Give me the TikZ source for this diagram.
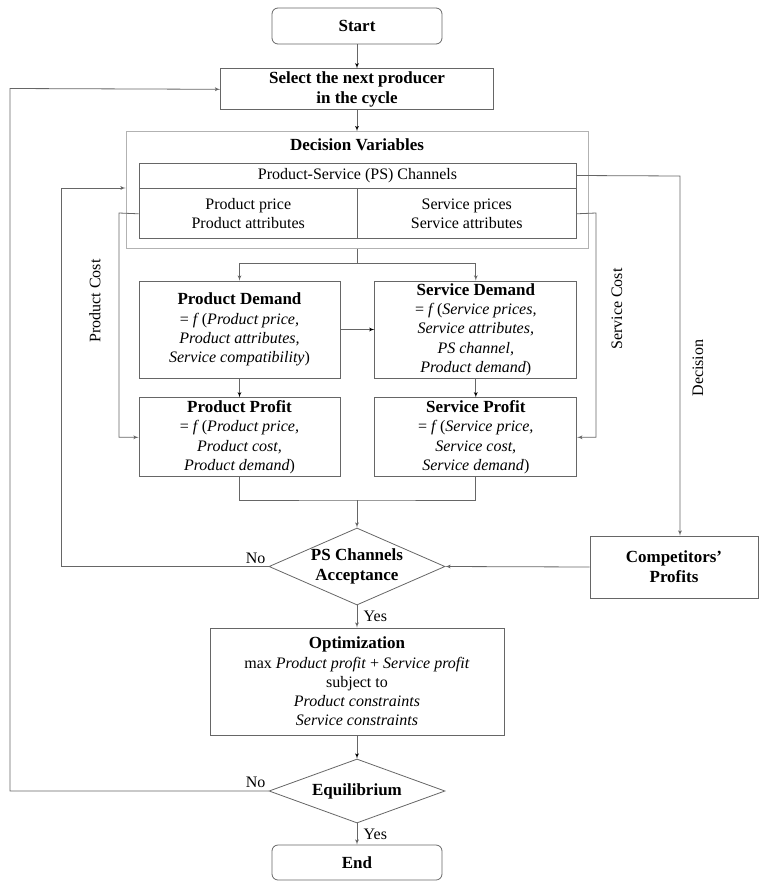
\documentclass[tikz,border=0pt]{standalone}
\usepackage{fontspec}
\setmainfont{Liberation Serif}
\usetikzlibrary{arrows,positioning,shapes.geometric}
\newcommand{\hd}[1]{{\fontsize{17}{19.3}\selectfont\bfseries #1}}

\begin{document}
\begin{tikzpicture}[x=1pt,y=-1pt,node distance=20pt,auto,>=latex',
    every node/.append style={align=center,font=\fontsize{16}{19.3}\selectfont},
    line/.style={draw=black!60,line width=0.8pt},
    int/.style={draw=black!60,line width=0.8pt,inner sep=0pt},
    bf/.style={font=\fontsize{17}{20}\selectfont\bfseries},
    term/.style={int,bf,rounded corners=6pt,minimum width=170pt,minimum height=36pt},
    dec/.style={int,bf,diamond,aspect=2.3,minimum width=176pt}]

    \useasboundingbox (0,0) rectangle (758,881);

    \node [term] (start) at (357,26) {Start};
    \node [int, bf, minimum width=273pt, minimum height=41pt, below=24pt of start] (sel) {Select the next producer\\in the cycle};
    \node [int, draw=black!30, minimum width=462pt, minimum height=117pt, below=21pt of sel] (dv) {};
    \node [bf] (dvt) at (357,145) {Decision Variables};
    \node [int, minimum width=437pt, minimum height=25pt] (ps) at (357.5,175.5) {Product-Service (PS) Channels};
    \node [int, minimum width=218.5pt, minimum height=50pt, anchor=north west] (pc) at (ps.south west) {Product price\\Product attributes};
    \node [int, minimum width=218.5pt, minimum height=50pt, anchor=north east] (sc) at (ps.south east) {Service prices\\Service attributes};

    \node [int, minimum width=201pt, minimum height=97pt] (pd) at (239.5,329.5) {\hd{Product Demand}\\= \textit{f}\,(\textit{Product price,}\\\textit{Product attributes,}\\\textit{Service compatibility})};
    \node [int, minimum width=202pt, minimum height=97pt, right=34pt of pd] (sd) {\hd{Service Demand}\\= \textit{f}\,(\textit{Service prices,}\\\textit{Service attributes,}\\\textit{PS channel,}\\\textit{Product demand})};
    \node [int, minimum width=201pt, minimum height=79pt, below=19pt of pd] (pp) {\hd{Product Profit}\\= \textit{f}\,(\textit{Product price,}\\\textit{Product cost,}\\\textit{Product demand})};
    \node [int, minimum width=202pt, minimum height=79pt, below=19pt of sd] (sp) {\hd{Service Profit}\\= \textit{f}\,(\textit{Service price,}\\\textit{Service cost,}\\\textit{Service demand})};

    \node [dec, minimum height=77pt] (acc) at (357,566.5) {PS Channels\\Acceptance};
    \node [int, bf, minimum width=168pt, minimum height=62pt] (comp) at (674,567) {Competitors’\\Profits};
    \node [int, minimum width=294pt, minimum height=107pt] (opt) at (357,681.5) {\hd{Optimization}\\max \textit{Product profit} + \textit{Service profit}\\subject to\\\textit{Product constraints}\\\textit{Service constraints}};
    \node [dec, minimum height=64pt] (eq) at (357,791) {Equilibrium};
    \node [term, minimum height=35pt] (fin) at (357,862.5) {End};

    \coordinate (split) at (357,263);
    \coordinate (merge) at (357,500);
    \coordinate (noacc) at (61,188);
    \coordinate (noeq) at (10,88.5);
    \coordinate (pcost) at (119,213);
    \coordinate (scost) at (596,213);
    \coordinate (dcn) at (680,176);

    \path[->, line] (start) edge (sel)
                    (sel) edge (dv)
                    (pd) edge (sd)
                    (pd) edge (pp)
                    (sd) edge (sp)
                    (opt) edge (eq);
    \draw[->, line] (dv) -- (split) -| (pd.north);
    \draw[->, line] (split) -| (sd.north);
    \draw[line] (pp.south) |- (merge) -| (sp.south);
    \draw[->, line] (merge) -- (acc.north);
    \draw[->, line] (acc) -- node[right=3pt, auto=false] {Yes} (opt);
    \draw[->, line] (eq) -- node[right=3pt, auto=false] {Yes} (fin);
    \draw[->, line] (comp.west) -- (acc.east);

    % feedback loops
    \draw[->, line] (acc.west) -| (noacc) -- (noacc -| dv.west);
    \draw[->, line] (eq.west) -| (noeq) -- (sel.west);
    \node [anchor=south east, inner sep=3pt] at (acc.west) {No};
    \node [anchor=south east, inner sep=3pt] at (eq.west) {No};

    % costs and decision
    \draw[->, line] (pc.west) -- (pcost) |- (pp.west);
    \draw[->, line] (sc.east) -- (scost) |- (sp.east);
    \draw[->, line] (ps.east) -- (dcn) -- (dcn |- comp.north);
    \node [rotate=90] at (95,301) {Product Cost};
    \node [rotate=90] at (617,309) {Service Cost};
    \node [rotate=90] at (698,368) {Decision};
\end{tikzpicture}
\end{document}
